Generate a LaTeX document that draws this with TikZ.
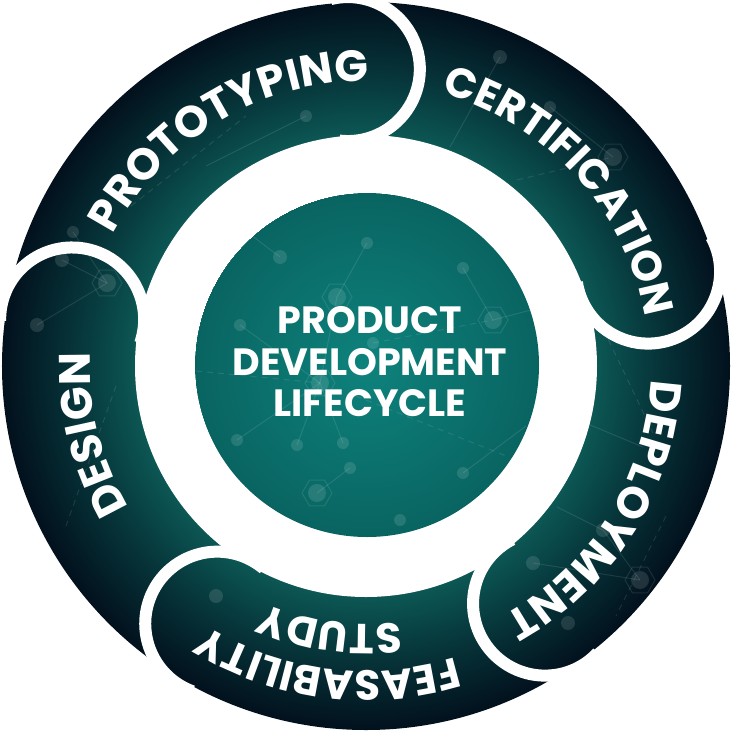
\documentclass[tikz,border=0pt]{standalone}
\usepackage{fontspec}
\newfontfamily\pop{Poppins}
\usetikzlibrary{decorations.text}
\definecolor{ringin}{RGB}{12,88,85}
\definecolor{ringmid}{RGB}{6,52,57}
\definecolor{ringout}{RGB}{2,16,28}
\definecolor{corein}{RGB}{14,130,124}
\definecolor{coreout}{RGB}{9,100,97}
\pgfdeclareradialshading{ringshade}{\pgfpoint{0bp}{0bp}}{color(0bp)=(ringin); color(228bp)=(ringin); color(292bp)=(ringmid); color(364bp)=(ringout)}
\pgfdeclareradialshading{coreshade}{\pgfpoint{0bp}{0bp}}{color(0bp)=(corein); color(172bp)=(coreout)}
\newcommand\ringfont{\pop\bfseries\fontsize{44}{44}\selectfont\color{white}}
\newcommand\ringfontb{\pop\bfseries\fontsize{42}{42}\selectfont\color{white}}
\tikzset{
  sep/.style={white, line width=12pt},
  ringtext/.style={decorate, decoration={text along path, text align=center, text={|\ringfont|#1}}},
  ringtextb/.style={decorate, decoration={text along path, text align=center, text={|\ringfontb|#1}}},
  net/.style={draw=white, draw opacity=0.10, line width=1pt},
  netdash/.style={net, dashed, dash pattern=on 6pt off 5pt},
  netdot/.style={fill=white, fill opacity=0.12},
  hexdot/.pic={\draw[net] (0:15)--(60:15)--(120:15)--(180:15)--(240:15)--(300:15)--cycle;
               \fill[netdot] (0,0) circle[radius=9];},
}
\begin{document}
\begin{tikzpicture}[x=1pt,y=1pt]
\useasboundingbox (-366,-366) rectangle (367,366);
\fill[white] (-366,-366) rectangle (367,366);
% ring
\begin{scope}
  \clip (0,0) circle[radius=364];
  \pgftext{\pgfuseshading{ringshade}}
  % faint network texture in the ring
  \draw[net] (-304,106) -- (-259,83) -- (-329,41);
  \draw[net] (-293,134) -- (-259,83);
  \fill[netdot] (-304,106) circle[radius=7] (-329,41) circle[radius=7] (-293,134) circle[radius=6];
  \pic at (-259,83) {hexdot};
  \draw[net] (134,309) -- (84,219);
  \draw[net] (184,259) -- (247,209);
  \draw[netdash] (151,186) -- (247,209);
  \fill[netdot] (134,309) circle[radius=7] (184,259) circle[radius=6];
  \pic at (247,209) {hexdot};
  \draw[netdash] (233,46) -- (287,-67);
  \draw[net] (157,-31) -- (277,-81);
  \draw[net] (191,-141) -- (237,-164) -- (274,-214);
  \draw[net] (167,-197) -- (274,-214);
  \draw[netdash] (300,-150) -- (250,-250);
  \fill[netdot] (237,-164) circle[radius=7] (167,-197) circle[radius=7] (202,-257) circle[radius=7];
  \pic at (274,-214) {hexdot};
  \draw[netdash] (-250,-20) -- (-300,-160);
  \draw[netdash] (-235,160) -- (-120,250);
  \draw[net] (-160,200) -- (-60,250);
  \fill[netdot] (-150,-230) circle[radius=7] (-60,250) circle[radius=6];
  \fill[white] (0,0) circle[radius=231];
\end{scope}
% core
\begin{scope}
  \clip (1,1) circle[radius=172];
  \pgftext[at={\pgfpoint{1pt}{1pt}}]{\pgfuseshading{coreshade}}
  \draw[net] (-86,109) -- (-140,150);
  \draw[net] (1,123) -- (-29,69);
  \draw[net] (-126,41) -- (-46,-17) -- (-29,69);
  \draw[net] (-129,-74) -- (-46,-17);
  \draw[net] (-69,-79) -- (-46,-17) -- (-23,-77);
  \draw[net] (-49,-127) -- (-16,-102);
  \draw[net] (97,98) -- (127,46) -- (180,60);
  \draw[netdash] (7,23) -- (127,46);
  \draw[netdash] (-170,-5) -- (-46,-17);
  \draw[net] (97,-107) -- (160,-60);
  \draw[netdash] (-10,-30) -- (140,-90);
  \fill[netdot] (-86,109) circle[radius=7] (1,123) circle[radius=6] (-126,41) circle[radius=6]
     (-129,-74) circle[radius=6] (-23,-77) circle[radius=6] (-69,-79) circle[radius=6]
     (-16,-102) circle[radius=6] (97,98) circle[radius=6] (97,-107) circle[radius=6]
     (34,-154) circle[radius=6] (7,23) circle[radius=6];
  \pic at (-29,69) {hexdot};
  \pic at (127,46) {hexdot};
  \pic at (-49,-127) {hexdot};
  \pic at (-46,-17) {hexdot};
\end{scope}
% separators (rounded caps)
\foreach \a [evaluate=\a as \s using \a+10, evaluate=\a as \e using \a-190] in {93.5,18.5,-53,-120,171}
  \draw[sep] ([shift={(\a:297.5)}]\s:72) arc[start angle=\s, end angle=\e, radius=72];
% labels
\path[ringtext=PROTOTYPING] (161:285) arc[start angle=161, end angle=81, radius=285];
\path[ringtextb=CERTIFICATION] (82.2:283) arc[start angle=82.2, end angle=2.2, radius=283];
\path[ringtext=DEPLOYMENT] (8:285) arc[start angle=8, end angle=-72, radius=285];
\path[ringtextb=FEASABILITY] (-57.2:305) arc[start angle=-57.2, end angle=-137.2, radius=305];
\path[ringtextb=STUDY] (-67.8:258) arc[start angle=-67.8, end angle=-127.8, radius=258];
\path[ringtext=DESIGN] (234:276) arc[start angle=234, end angle=154, radius=276];
\node[align=center, text=white, font=\pop\bfseries\fontsize{38}{41.5}\selectfont] (core) at (4,4) {PRODUCT\\DEVELOPMENT\\LIFECYCLE};
\end{tikzpicture}
\end{document}
